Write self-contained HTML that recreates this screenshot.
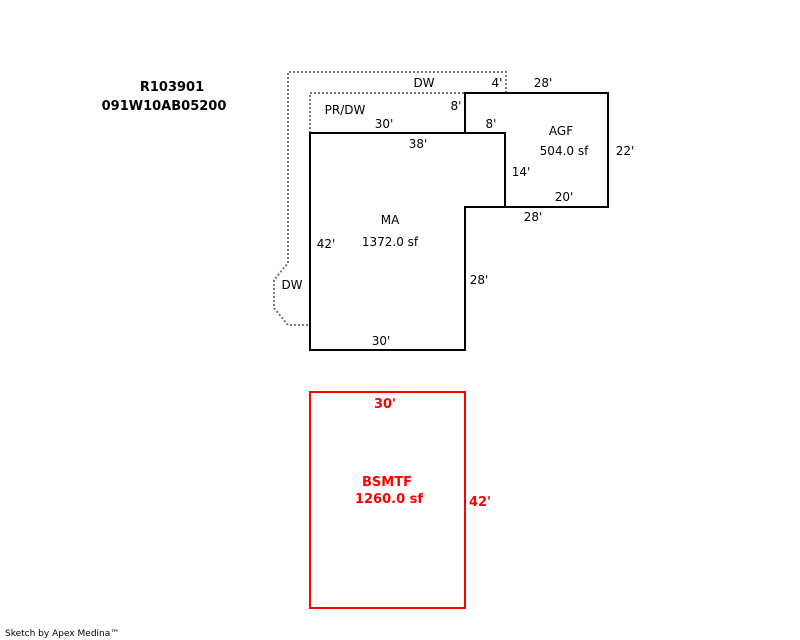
<!DOCTYPE html>
<html><head><style>
html,body{margin:0;padding:0;background:#fff;}
svg{display:block;}
text{font-family:"DejaVu Sans","Liberation Sans",sans-serif;font-size:12px;fill:#000;}
.b{font-weight:bold;font-size:13px;}
.r{fill:#f00;font-weight:bold;font-size:13px;}
</style></head><body>
<svg width="800" height="640" viewBox="0 0 800 640" xmlns="http://www.w3.org/2000/svg">
<g fill="none" stroke="#777" stroke-width="2" stroke-dasharray="2,2">
<polyline points="310,133 310,93 465,93"/>
<polyline points="506,93 506,72 288,72 288,263 274,280 274,308 288,325 310,325"/>
</g>
<g fill="none" stroke="#000" stroke-width="2">
<polygon points="310,133 505,133 505,207 465,207 465,350 310,350"/>
<polygon points="465,93 608,93 608,207 505,207 505,133 465,133"/>
</g>
<rect x="310" y="392" width="155" height="216" fill="none" stroke="#f00" stroke-width="2"/>
<text class="b" x="172" y="91" text-anchor="middle">R103901</text>
<text class="b" x="164" y="110" text-anchor="middle">091W10AB05200</text>
<text x="424" y="87" text-anchor="middle">DW</text>
<text x="497" y="87" text-anchor="middle">4'</text>
<text x="543" y="87" text-anchor="middle">28'</text>
<text x="345" y="114" text-anchor="middle">PR/DW</text>
<text x="456" y="110" text-anchor="middle">8'</text>
<text x="384" y="128" text-anchor="middle">30'</text>
<text x="491" y="128" text-anchor="middle">8'</text>
<text x="561" y="135" text-anchor="middle">AGF</text>
<text x="564" y="155" text-anchor="middle">504.0 sf</text>
<text x="625" y="155" text-anchor="middle">22'</text>
<text x="418" y="148" text-anchor="middle">38'</text>
<text x="521" y="176" text-anchor="middle">14'</text>
<text x="564" y="201" text-anchor="middle">20'</text>
<text x="533" y="221" text-anchor="middle">28'</text>
<text x="390" y="224" text-anchor="middle">MA</text>
<text x="390" y="246" text-anchor="middle">1372.0 sf</text>
<text x="326" y="248" text-anchor="middle">42'</text>
<text x="292" y="289" text-anchor="middle">DW</text>
<text x="479" y="284" text-anchor="middle">28'</text>
<text x="381" y="345" text-anchor="middle">30'</text>
<text class="r" x="385" y="408" text-anchor="middle">30'</text>
<text class="r" x="387" y="486" text-anchor="middle">BSMTF</text>
<text class="r" x="389" y="503" text-anchor="middle">1260.0 sf</text>
<text class="r" x="480" y="506" text-anchor="middle">42'</text>
<text x="5" y="636" style="font-size:9px">Sketch by Apex Medina™</text>
</svg>
</body></html>
